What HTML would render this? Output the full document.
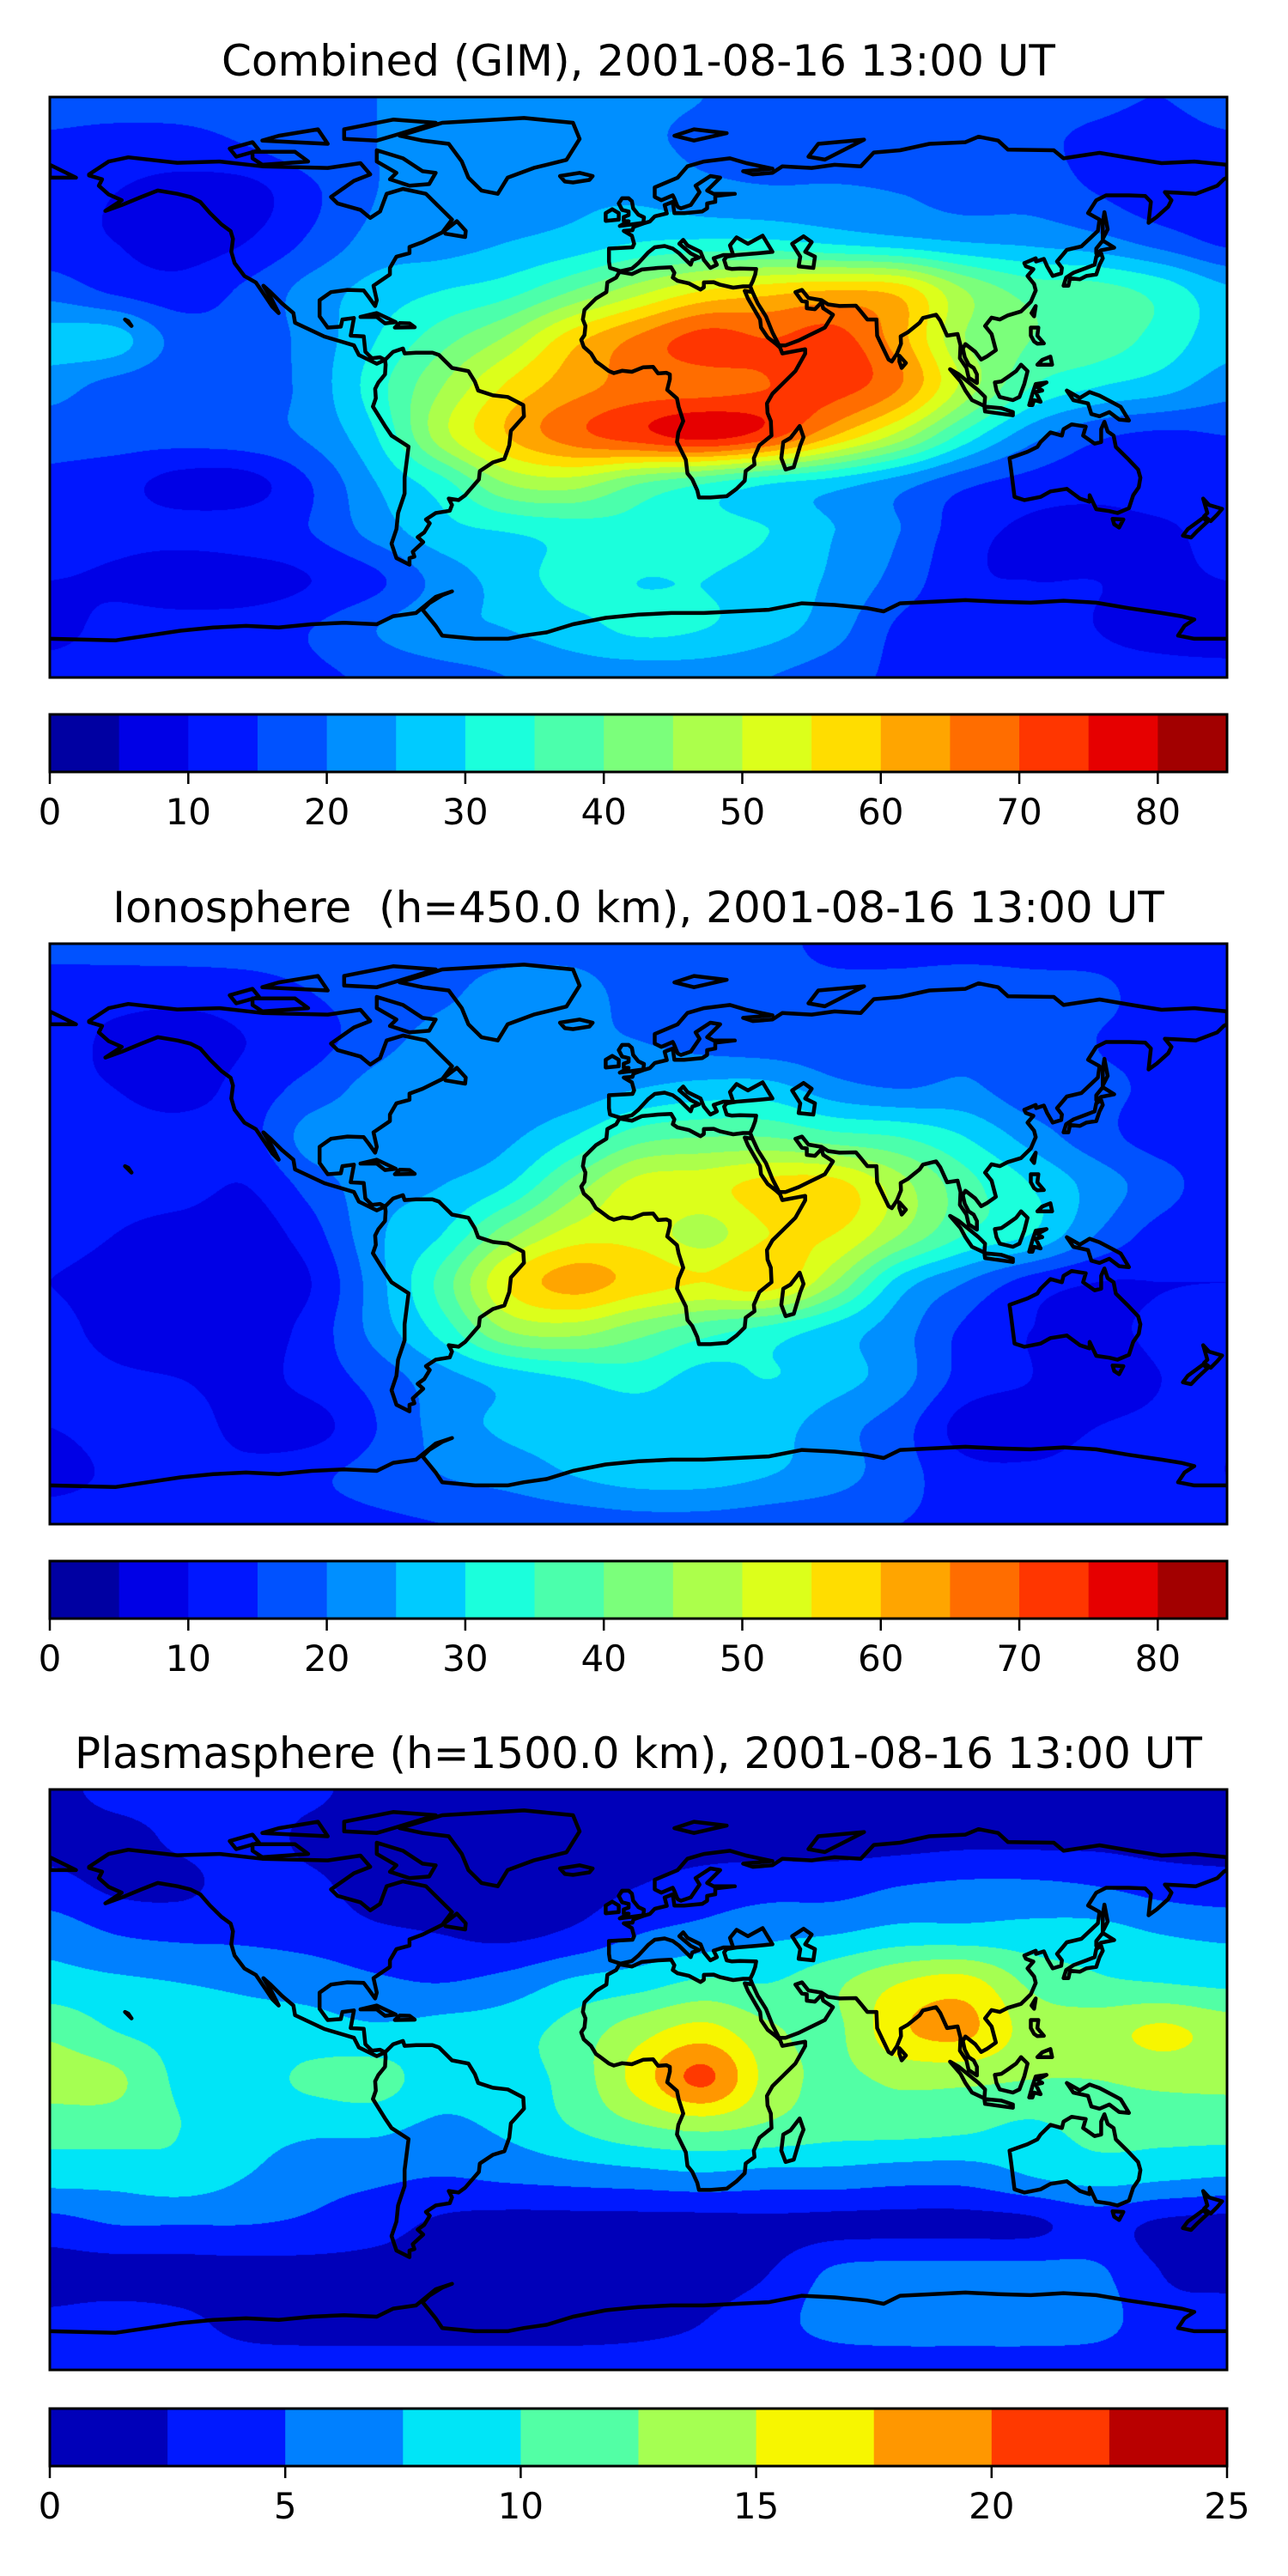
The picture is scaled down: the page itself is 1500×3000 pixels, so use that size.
<!DOCTYPE html>
<html><head><meta charset="utf-8"><title>TEC maps</title>
<style>
html,body{margin:0;padding:0;background:#fff;}
#page{position:relative;width:1500px;height:3000px;overflow:hidden;background:#fff;}
canvas{position:absolute;}
svg{position:absolute;left:0;top:0;}
text{font-family:"DejaVu Sans","Liberation Sans",sans-serif;fill:#000;}
</style></head>
<body>
<div id="page">
<canvas id="c0" width="1371" height="676" style="left:58px;top:113px"></canvas>
<canvas id="c1" width="1371" height="676" style="left:58px;top:1099px"></canvas>
<canvas id="c2" width="1371" height="676" style="left:58px;top:2084px"></canvas>
<svg id="ov" width="1500" height="3000">
<text x="743.5" y="88" font-size="50" text-anchor="middle">Combined (GIM), 2001-08-16 13:00 UT</text>
<text x="743.5" y="1074" font-size="50" text-anchor="middle" xml:space="preserve" style="white-space:pre">Ionosphere  (h=450.0 km), 2001-08-16 13:00 UT</text>
<text x="743.5" y="2059" font-size="50" text-anchor="middle">Plasmasphere (h=1500.0 km), 2001-08-16 13:00 UT</text>
</svg>
</div>
<script>
// ---- data grids: rows lat 90..-90 step 15, cols lon -180..180 step 20 ----
const gridLats = [90,75,60,45,30,15,0,-15,-30,-45,-60,-75,-90];
const gridLons = [-180,-160,-140,-120,-100,-80,-60,-40,-20,0,20,40,60,80,100,120,140,160,180];
const combinedTEC = [
[17,17,17,17,18,20,22,22,22,21,20,18,18,18,18,17,16,15,17],
[14,13,13,15,18,20,22,23,22,21,19,18,18,18,17,16,14,13,14],
[12,10,8,8,14,20,23,23,24,24,22,21,21,20,18,18,15,12,12],
[12,10,8,10,16,22,23,25,27,30,31,31,29,27,25,24,22,18,14],
[18,14,12,16,22,27,30,33,40,48,55,58,60,58,45,38,37,33,26],
[27,27,18,17,22,30,38,46,58,66,72,70,72,62,45,40,38,33,27],
[22,18,16,17,22,33,45,56,63,67,68,70,72,65,48,35,30,27,22],
[17,17,17,18,21,30,48,60,68,73,77,72,60,48,33,22,16,14,15],
[14,12,8,8,15,25,33,45,47,40,35,30,27,22,16,13,12,13,12],
[13,12,12,13,15,22,28,30,32,33,32,30,25,20,12,9,8,9,12],
[10,9,6,7,10,14,22,27,32,30,30,28,24,18,11,10,10,9,10],
[8,12,13,13,15,20,24,25,28,31,30,27,22,14,12,12,10,8,7],
[13,13,13,13,14,16,18,20,22,22,22,20,17,14,13,13,12,12,12]];
const ionoTEC = [
[17,17,17,17,17,17,18,18,18,17,17,17,13,13,13,13,13,13,13],
[12,12,12,13,15,17,19,22,22,18,17,17,17,17,18,17,16,13,12],
[12,9,7,10,13,18,22,22,21,20,18,17,17,18,19,19,15,14,12],
[11,10,8,12,17,22,24,22,22,25,27,27,22,20,21,17,16,14,12],
[12,12,12,13,22,22,22,24,30,38,40,40,37,35,30,23,17,13,13],
[12,12,12,10,17,23,25,30,42,52,53,57,57,47,37,30,23,17,12],
[12,10,8,7,13,24,30,43,52,53,48,55,55,45,35,30,20,13,12],
[10,8,7,6,10,23,37,55,62,58,55,58,45,28,20,13,10,10,10],
[12,8,7,7,12,22,32,45,47,42,37,33,28,22,14,10,9,11,12],
[13,11,10,8,12,17,23,27,30,32,28,30,27,22,13,10,8,10,12],
[10,12,13,8,8,15,22,26,27,27,27,27,22,17,8,8,10,11,11],
[8,11,13,12,14,17,20,22,25,27,27,25,22,17,12,11,12,13,10],
[13,13,13,13,13,14,15,16,17,18,18,17,16,15,14,13,13,13,13]];
const plasmaTEC = [
[1.5,3.5,3.5,3.5,3,1.5,1.5,1.5,1.5,1.5,1.5,1.5,1.5,1.5,1.5,1.5,1.5,1.5,1.5],
[1.5,1.5,3,3.5,2,1.5,1.5,1.5,1.5,1.5,1.5,1.5,1.5,1.5,1.8,1.8,1.8,1.5,1.5],
[3.5,2,2,3.5,3,1.5,1.5,1.5,1.5,2.5,3.5,4,4,5,5.5,5.5,5,4,3.5],
[6.5,5,4.5,4.5,4,3,2.5,2,3,5,6,7,7.5,8.5,8.5,8.5,8.5,7.5,7],
[8.5,8,7.5,7,6.5,5.5,5,6,8,9,10.5,10,12,15,16,12,10.5,10,9.5],
[12,10,9,8.5,8.5,8,8.5,9,11,14,16,13,12,17,18,14,14,15.5,14],
[13.5,13,9.5,9,10.5,11,8.5,9,11,16,20.5,14,12,13,13,12.5,12.5,13,13],
[11,11,10,8.5,8,8,7,8,10,12,13,12,11,11,10.5,9.5,11,11,11],
[8.5,8.5,9,7.5,6,5.5,5,5.5,6,6.5,7,6.5,6.5,6,6,7.5,8.5,8,7.5],
[4,5,5,5,4.5,3.5,2,1.5,1.5,1.5,1.5,1.8,1.8,1.8,1.8,2.0,3.5,2,1.5],
[1.5,1.5,1.5,1.5,1.5,1.5,1.5,1.5,1.5,1.5,1.5,2.5,5.5,6,6,6,5.5,2.5,1.8],
[3,3.5,3,1.8,1.5,1.5,1.5,1.5,1.5,1.8,2.5,4,6,6.5,6.5,6.5,6,3.5,3.5],
[3.5,3.5,3.5,3.5,3.5,3.5,3.5,3.5,3.5,3.5,3.5,3.5,3.5,3.5,3.5,3.5,3.5,3.5,3.5]];
const tecLevels = [0,5,10,15,20,25,30,35,40,45,50,55,60,65,70,75,80,85];
const plasmaLevels = [0,2.5,5,7.5,10,12.5,15,17.5,20,22.5,25];
const tecTicks = ["0","10","20","30","40","50","60","70","80"];
const tecTickVals = [0,10,20,30,40,50,60,70,80];
const plasmaTicks = ["0","5","10","15","20","25"];
const plasmaTickVals = [0,5,10,15,20,25];

// ---- layout ----
const MAPX=58, MAPW=1371, MAPH=676;
const panels=[
 {cv:'c0',grid:combinedTEC,levels:tecLevels,ticks:tecTicks,tv:tecTickVals,top:113,cb:832,name:'combined'},
 {cv:'c1',grid:ionoTEC,levels:tecLevels,ticks:tecTicks,tv:tecTickVals,top:1099,cb:1818,name:'ionosphere'},
 {cv:'c2',grid:plasmaTEC,levels:plasmaLevels,ticks:plasmaTicks,tv:plasmaTickVals,top:2084,cb:2805,name:'plasmasphere'}];
const CBH=67;

function lerpTab(t,xs,ys){for(let i=1;i<xs.length;i++){if(t<=xs[i]){const f=(t-xs[i-1])/(xs[i]-xs[i-1]);return ys[i-1]+f*(ys[i]-ys[i-1]);}}return ys[ys.length-1];}
function jet(t){
 const r=lerpTab(t,[0,0.35,0.66,0.89,1],[0,0,1,1,0.5]);
 const g=lerpTab(t,[0,0.125,0.375,0.64,0.91,1],[0,0,1,1,0,0]);
 const b=lerpTab(t,[0,0.11,0.34,0.65,1],[0.5,1,1,0,0]);
 return [Math.round(r*255),Math.round(g*255),Math.round(b*255)];}
function bandColors(levels){const n=levels.length-1,a=[];for(let i=0;i<n;i++)a.push(jet((i+0.5)/n));return a;}
function cr(p0,p1,p2,p3,t){return 0.5*((2*p1)+(-p0+p2)*t+(2*p0-5*p1+4*p2-p3)*t*t+(-p0+3*p1-3*p2+p3)*t*t*t);}

function drawField(p){
 const cv=document.getElementById(p.cv),ctx=cv.getContext('2d');
 const img=ctx.createImageData(MAPW,MAPH),d=img.data;
 const G=p.grid,R=G.length,C=G[0].length,cols=bandColors(p.levels),L=p.levels,n=L.length-1;
 const gv=(r,c)=>{r=Math.max(0,Math.min(R-1,r));c=Math.max(0,Math.min(C-1,c));return G[r][c];};
 for(let py=0;py<MAPH;py++){
  const lat=90-(py+0.5)/MAPH*180;
  const fy=(90-lat)/15, ry=Math.floor(fy), ty=fy-ry;
  const rowv=[];
  for(let c=0;c<C;c++) rowv.push(cr(gv(ry-1,c),gv(ry,c),gv(ry+1,c),gv(ry+2,c),ty));
  const rv=c=>rowv[Math.max(0,Math.min(C-1,c))];
  for(let px=0;px<MAPW;px++){
   const lon=-180+(px+0.5)/MAPW*360;
   const fx=(lon+180)/20, cx=Math.floor(fx), tx=fx-cx;
   const v=cr(rv(cx-1),rv(cx),rv(cx+1),rv(cx+2),tx);
   let k=0;while(k<n-1&&v>=L[k+1])k++;
   const col=cols[k],o=(py*MAPW+px)*4;
   d[o]=col[0];d[o+1]=col[1];d[o+2]=col[2];d[o+3]=255;
  }
 }
 ctx.putImageData(img,0,0);
}

// ---- coastlines (lon,lat), simplified ----
const coastPolys=[
[-168,66,-162,70,-156,71.3,-141,69.6,-128,70,-115,68.5,-95,68,-85,69.5,-82,66,-87,64,-94,59,-92,57,-85,55,-82,52.5,-79,54.5,-77,60,-72,61.5,-65,60,-61,56,-57,52,-60,48,-66,45,-70,43.5,-70,41.6,-74,40.5,-76,37,-76,35,-81,31.5,-80,27,-80.5,25.2,-82.5,28,-84,30,-89,30.2,-94,29.5,-97.5,27,-97.5,22,-95,18.5,-91,18.8,-90.5,21,-87,21.5,-88,16,-84,15.8,-83.5,11,-81.5,9,-79,9.3,-77.5,8.5,-80,7.3,-85.5,10,-87,13,-92,14.5,-96,15.7,-105,20,-105.5,23,-109,26,-112.5,29.5,-114.7,31.5,-112,27,-110,23,-112,25,-114,28,-117,32.5,-120.5,34.5,-123.5,38.5,-124.5,42,-124,46,-124.7,48.4,-127.5,50.5,-131,54,-134,57.5,-137,59,-141,60,-147,61,-152,59,-158,56.5,-163,54.7,-158,58,-162,59.8,-165,62.5,-164,64.5,-168,65.7],
[-73,78,-60,82,-35,83.5,-20,82,-18,77,-22,70.5,-32,68,-40,65,-43,60,-48,61,-52,65,-54,70,-58,75.5,-66,76.5],
[-80,73.5,-72,71,-66,67,-62,66.5,-64,63,-70,62.5,-76,64.5,-74,66.5,-80,70],
[-118,73,-105,73,-101,70,-115,69,-118,71],
[-90,80,-75,83,-62,82,-75,78,-80,76.5,-90,77],
[-110,78,-98,80,-95,75.5,-105,76,-115,76.5],
[-125,74,-118,76,-116,73.5,-123,71.5],
[-9,43,-9,39,-8.7,37,-5.5,36,-2,36.8,0,38.5,3,41.8,5,43.4,8,43.8,10.5,43,12.5,41.5,16,38,16.5,39.5,18.5,40.2,16,41.5,12.5,44.5,13.7,45.7,15,44,19,42,20,39.5,22,37,24,38,23,40,26,41,29,41,28,44,30,46.5,33.5,44.5,38,47,41,42,36,41.5,30,41,27,40.5,26.2,39.5,27,37,28.5,36.7,31,36.8,36,36.7,35.7,35,35,33,34.2,31.3,34.9,29.5,36.5,26,39,22,41,17,43,13,45,13,49,14.5,52,16,55,17.5,57,18.5,59.5,22.5,56.5,24.5,56,26.3,54,24.2,51.5,24.5,51.5,26.5,50,26.7,48,29.5,50,30.2,52,27.7,56,27,58,25.7,61.5,25.2,66.5,25.3,68,23.5,70,21,72.8,21,73,16,74.5,12.8,76.5,8.6,77.5,8,79,10.3,80.3,13.5,80.2,15.8,82.3,17,86,20,87,21.5,89,22,91,22.5,92.3,20.7,94.4,16,97.6,16.5,98.5,13,98.3,9,100.3,6,101,3,103.5,1.3,103.5,4,102.5,6,101,7,99.8,9.3,99.2,12,100,13.4,101,12.6,103,11,104.8,8.6,106.5,9.5,109.3,11.5,108,16.5,106,19,108,21.6,110.5,21,113,22.3,117,23.5,120,26.5,121.5,30,121,32,119,34.5,120.8,36.6,118.5,37.5,118,38.5,121.5,40,121.6,39,124,39.8,125,37.5,126.7,34.5,129.3,35.3,129.5,37,128,39,129.7,41,131,42.6,135.5,43.7,140.5,48.5,141,52,137.5,54,140,58,143,59.5,150,59.5,155,59.3,156.7,57.5,156,51,158.5,52.8,162,56,163,58,161,60.5,165,60.3,170.5,60,177,62.5,179,64.5,180,65,180,69,170,70,160,69.5,152,70.8,141,72.7,130,71,127,73.5,113,73.7,110,76.5,104,77.7,100,76,89,75.5,80,73.5,72,72.8,68,68.5,60,69,53,68,44,68.5,41,66.5,35,66,32,67,41,67.8,33,69.5,28,71,20,70,15,68.5,12,65,5,62,5,59,7,58,10.5,59.5,11,58.5,12,56,13,55.5,16,56.5,18.7,60.5,17.5,62.5,22,65.5,25,65,21,61,23,60,29.5,60,23.5,59.3,23.5,57.5,21,57,21,55.5,19.5,54.5,14,54,11,54,10.5,57.5,8,56.5,8.7,53.9,5,53,3.5,51.4,1.5,50.8,-1.5,49.7,-1.8,48.7,-4.5,48.5,-2,47,-1.3,44.5,-1.8,43.4],
[-180,69,-172,65,-180,65],
[-5.7,50,1.5,51,1.7,52.7,0,53.5,-1.6,55.5,-2,57.7,-3,58.6,-5,58.6,-6,57,-5,55,-3,54.5,-3,53.4,-4.5,52.8,-4.5,51.6,-3,51.5],
[-10,51.6,-6,52,-6,54,-8,55.2,-10,54],
[-24,65.5,-18,66.5,-14,65.5,-15,64.3,-20,63.5,-22.5,63.8],
[47,44.5,50.5,46.8,53,45,51,42,54,40.5,53.5,37,49,37.5,49.5,40.5],
[-17,21,-16.5,24,-13,27.5,-9.8,29.5,-9.5,32.5,-6.8,34,-5.8,35.8,-2,35.1,1,36.5,6,37,10,37.2,11,35.5,10.5,34,12,33,15.5,32.2,19,30.3,20,31,20,32.5,23,32.6,25,31.8,29,30.9,32,31.3,34.2,31.3,34.9,29.5,32.5,29.9,33.5,27.5,35.5,24,37.2,21,37.5,18.5,39.5,15.5,42,13.5,43.3,12.3,44,10.5,51,11.8,51,10.4,48,5,44,1,41,-2,39.3,-5,39.5,-8,40.5,-10.5,40.7,-15,37,-18,35.3,-22,35.5,-24,32.8,-26,32.5,-29,30,-31.5,27,-33.8,22,-34.2,18.5,-34.2,18,-32,16.5,-28.6,15,-26.7,14.5,-22.5,11.8,-17,12.2,-14,13.7,-10.5,12.3,-6,11.8,-3.5,8.8,-0.8,9.6,2.5,9.6,4,8.5,4.5,6,4.3,4.5,6.3,1.5,6.2,-2,4.8,-5,5.1,-7.5,4.4,-9,5,-11.5,6.9,-13,8,-14.5,10.5,-16.7,12.5,-17.5,14.7,-16.5,16.2,-16.2,19],
[49.3,-12,50.5,-15.5,49.5,-18,47.5,-24.8,45,-25.5,43.7,-22,44.3,-17,46.5,-15.7],
[-77.5,8.5,-75,11,-72,12,-71.5,10.5,-68,10.7,-63,10.7,-61,10,-57,6,-52,5,-50,1.7,-49,-1,-44.5,-2.5,-40,-3,-35.2,-5.5,-35,-9,-39,-13.5,-39.5,-18,-41,-22.2,-44.5,-23.3,-48.5,-26,-48.8,-28.6,-53,-33.5,-55,-35,-58,-34.5,-57,-36.5,-57.7,-38.3,-62,-39,-65,-41,-63.8,-42.2,-65.5,-45,-67.5,-46.5,-65.8,-48,-69,-51,-68.5,-52.5,-70,-53,-70,-55,-74,-53,-75.5,-48.5,-74,-44,-73.5,-39,-71.5,-33,-71.5,-28,-70.3,-18.4,-75.5,-15,-77.5,-12,-81.2,-6,-80.3,-3.4,-80.5,-0.5,-79.5,1.5,-77.5,4,-77.3,7],
[113.5,-22,114,-26,115,-34,118,-35,123,-34,126,-32.3,131,-31.5,135,-34.5,138,-35.5,138,-33.5,140,-37.8,144,-38.4,146.5,-39,150,-37.5,151.3,-33.5,153,-31,153.5,-28,152.8,-25.5,149.5,-22,146,-18.5,145.3,-15,143.5,-13.7,142.5,-10.7,141.5,-13,141.5,-17,139.5,-17.5,136,-15,136.8,-12.2,132.5,-11.5,130,-13,129.5,-15,126,-14,123,-17,122,-18.5,119,-20],
[145,-40.8,148.3,-41,147,-43.5,145.5,-42.5],
[172.7,-34.5,174.5,-36.5,178.5,-37.7,177,-39.5,175,-41.5,173,-40,174,-39],
[172.7,-40.5,174,-41.7,171,-44.5,169,-46.6,166.5,-46,168,-44],
[130,31.5,131.5,31.5,132,33.8,135,33.5,137,34.5,140,35,141,38,142,40,141.5,41.5,140,40.5,139.5,38,137,37,133,35.5,130.8,34],
[140,41.5,141.5,42.5,145.5,43.3,142,45.5,140,43],
[142,46,143.5,49,142.5,54.3,142,51],
[95.3,5.6,98,4,104,-1,106,-3,105.8,-5.8,102,-4,100,-1,98.5,1.8],
[105.8,-6,111,-6.5,114.5,-7.7,114.5,-8.7,106,-7.5],
[109,1.5,109.5,-1,110.5,-3,114.5,-4,116.5,-3,118,1,119,5,117,7,115.5,5,113,3.2,111,1.8],
[119.5,-5.5,120.5,-2,121.5,1,124.8,1.5,122,0,123.5,-1,121.5,-1.5,123,-4.5,121,-4,120.5,-5.5],
[131,-1,135,-3.3,138,-1.5,141,-2.6,145.5,-5,147.5,-6.1,150,-10.3,147,-10,144,-7.7,141,-9,138.5,-8.3,137.5,-5,133,-4,132,-2.5],
[120,18.5,122.3,18.5,122,16,124,13.6,122,13.5,121,14.2,120,16],
[122,7,126.5,7,126,9.5,123.5,8.5],
[79.8,9.8,81.8,7.5,80.5,6,79.8,8],
[120.2,23,121.5,25.2,121,22],
[-85,21.8,-80,23,-74.2,20.2,-77.5,19.8,-80,21.8],
[-74.5,18.5,-68.4,18.6,-70,19.8,-73,19.9],
[-59,47.6,-53,46.6,-52.8,48.5,-55.5,51.5,-59.4,48.5],
[11,78,17,76.5,27,78.8,17,80],
[52,71.5,57,70.6,69,76.8,55,75.5],
[-157,21,-155,19,-156,20.5]];
const antarcticLine=[-180,-78,-160,-78.5,-150,-77,-140,-75.5,-130,-74.5,-120,-74,-110,-74.5,-100,-73.5,-90,-73,-80,-73.5,-75,-71,-68,-70,-62,-65,-57,-63.3,-60,-64.5,-64,-67,-66,-69,-62,-74,-60,-77,-50,-78,-40,-78,-35,-77,-28,-76,-20,-73.5,-10,-71.5,0,-70.5,10,-70,20,-70,30,-69.5,40,-69,50,-67,60,-67.5,70,-68.5,75,-69.5,80,-67,90,-66.5,100,-66,110,-66.5,120,-66.8,130,-66.2,140,-66.8,150,-68.5,160,-70,166,-71,170,-72,167,-74,165,-77,170,-78,180,-78];

const NS='http://www.w3.org/2000/svg';
const ov=document.getElementById('ov');
function mk(tag,attrs){const e=document.createElementNS(NS,tag);for(const k in attrs)e.setAttribute(k,attrs[k]);return e;}

panels.forEach((p,pi)=>{
 drawField(p);
 const xs=lon=>MAPX+(lon+180)/360*MAPW;
 const ys=lat=>p.top+(90-lat)/180*MAPH;
 let dstr='';
 coastPolys.forEach(poly=>{for(let i=0;i<poly.length;i+=2){dstr+=(i?'L':'M')+xs(poly[i]).toFixed(1)+' '+ys(poly[i+1]).toFixed(1);}dstr+='Z';});
 for(let i=0;i<antarcticLine.length;i+=2){dstr+=(i?'L':'M')+xs(antarcticLine[i]).toFixed(1)+' '+ys(antarcticLine[i+1]).toFixed(1);}
 const cp=mk('clipPath',{id:'clip'+pi});cp.appendChild(mk('rect',{x:MAPX,y:p.top,width:MAPW,height:MAPH}));ov.appendChild(cp);
 const coast=mk('path',{d:dstr,fill:'none',stroke:'#000','stroke-width':4.5,'stroke-linejoin':'round','clip-path':'url(#clip'+pi+')'});
 
 
 ov.appendChild(coast);
 const frame=mk('rect',{x:MAPX,y:p.top,width:MAPW,height:MAPH,fill:'none',stroke:'#000','stroke-width':3});
 
 
 ov.appendChild(frame);
 const L=p.levels,cols=bandColors(L),lo=L[0],hi=L[L.length-1];
 const cx=v=>MAPX+(v-lo)/(hi-lo)*MAPW;
 for(let i=0;i<L.length-1;i++){
  const c=cols[i];
  const r=mk('rect',{x:cx(L[i]).toFixed(2),y:p.cb,width:(cx(L[i+1])-cx(L[i])+0.6).toFixed(2),height:CBH,fill:'rgb('+c[0]+','+c[1]+','+c[2]+')'});
  
  
  ov.appendChild(r);
 }
 const cbf=mk('rect',{x:MAPX,y:p.cb,width:MAPW,height:CBH,fill:'none',stroke:'#000','stroke-width':3});
 
 
 ov.appendChild(cbf);
 p.tv.forEach((v,i)=>{
  const x=cx(v);
  const tk=mk('line',{x1:x,x2:x,y1:p.cb+CBH,y2:p.cb+CBH+14,stroke:'#000','stroke-width':2.5});
  
  
  ov.appendChild(tk);
  const t=mk('text',{x:x,y:p.cb+CBH+61,'font-size':42,'text-anchor':'middle'});
  t.textContent=p.ticks[i];
  
  
  ov.appendChild(t);
 });
});
</script>
</body></html>
